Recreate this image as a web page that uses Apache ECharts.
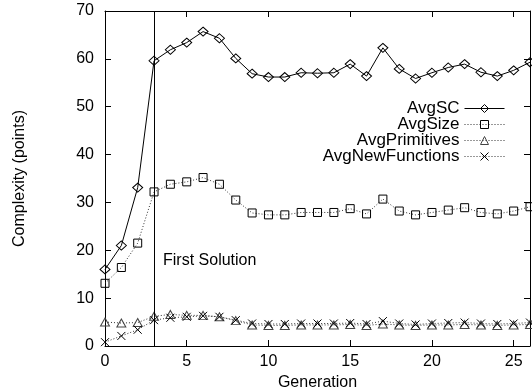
<!DOCTYPE html>
<html>
<head>
<meta charset="utf-8">
<script src="https://cdn.jsdelivr.net/npm/echarts@6/dist/echarts.min.js"></script>
<style>html,body{margin:0;padding:0;background:#fff;}#c{width:532px;height:390px;}</style>
</head>
<body>
<div id="c"></div>
<script>
var generations = [0,1,2,3,4,5,6,7,8,9,10,11,12,13,14,15,16,17,18,19,20,21,22,23,24,25,26];
var avgSC = [16.0,21.0,33.1,59.6,61.9,63.4,65.7,64.3,60.1,56.9,56.2,56.2,57.1,57.0,57.1,58.9,56.4,62.3,57.9,55.9,57.1,58.2,58.9,57.2,56.4,57.6,59.3];
var avgSize = [13.1,16.4,21.5,32.2,33.8,34.3,35.2,33.8,30.5,27.8,27.4,27.4,27.9,27.9,27.9,28.7,27.6,30.7,28.2,27.4,27.9,28.4,28.9,27.9,27.6,28.2,29.1];
var avgPrimitives = [5.0,4.8,4.9,6.2,6.6,6.4,6.4,6.1,5.3,4.4,4.3,4.3,4.4,4.4,4.4,4.5,4.3,4.6,4.4,4.3,4.4,4.4,4.5,4.4,4.3,4.4,4.5];
var avgNewFunctions = [0.8,2.1,3.4,5.4,5.9,6.1,6.3,6.1,5.4,4.7,4.6,4.6,4.7,4.7,4.7,4.8,4.6,5.2,4.7,4.5,4.7,4.8,4.9,4.7,4.6,4.7,4.9];
var seriesNames = ['AvgSC','AvgSize','AvgPrimitives','AvgNewFunctions'];
var firstSolutionGen = 3;
var firstSolutionLabel = 'First Solution';
var firstSolutionLabelY = 17.8;

function pairs(arr){ return arr.map(function(v,i){ return [generations[i], v]; }); }

var FONT = '"Liberation Sans", Arial, sans-serif';
var chart = echarts.init(document.getElementById('c'), null, {renderer:'canvas'});
var hollow = function(c){ return {color:'rgba(0,0,0,0)', borderColor:c, borderWidth:1}; };
var solid = {color:'#000', width:1, type:'solid'};
var dotted = {color:'#333', width:1, type:[1,2]};
var tick = {show:true, inside:false, length:-6, lineStyle:{color:'#000', width:1}};
var blank = function(){ return ''; };

var option = {
  animation:false,
  backgroundColor:'#fff',
  textStyle:{fontFamily:FONT},
  grid:{left:105, right:2, top:11, bottom:44, containLabel:false, outerBoundsMode:'none'},
  legend:{
    orient:'vertical', right:22, top:95, align:'right',
    itemWidth:40, itemHeight:10, itemGap:-1,
    textStyle:{fontFamily:FONT, fontSize:17, color:'#000', lineHeight:14},
    data:[
      {name:seriesNames[0], itemStyle:hollow('#000'), lineStyle:solid},
      {name:seriesNames[1], itemStyle:hollow('#000'), lineStyle:dotted},
      {name:seriesNames[2], itemStyle:hollow('#444'), lineStyle:dotted},
      {name:seriesNames[3], itemStyle:hollow('#000'), lineStyle:dotted}
    ]
  },
  xAxis:[{
    type:'value', min:0, max:26, interval:5,
    name:'Generation', nameLocation:'middle', nameGap:27,
    nameTextStyle:{fontFamily:FONT, fontSize:16, color:'#000'},
    axisLine:{show:true, onZero:false, lineStyle:{color:'#000', width:1}},
    axisTick:tick,
    axisLabel:{fontFamily:FONT, fontSize:16, color:'#000', margin:8, showMaxLabel:false},
    splitLine:{show:false}
  },{
    type:'value', position:'top', min:0, max:26, interval:5,
    axisLine:{show:true, onZero:false, lineStyle:{color:'#000', width:1}},
    axisTick:tick,
    axisLabel:{show:true, formatter:blank}, splitLine:{show:false}
  }],
  yAxis:[{
    type:'value', min:0, max:70, interval:10,
    name:'Complexity (points)', nameLocation:'middle', nameGap:77,
    nameTextStyle:{fontFamily:FONT, fontSize:16, color:'#000'},
    axisLine:{show:true, onZero:false, lineStyle:{color:'#000', width:1}},
    axisTick:tick,
    axisLabel:{fontFamily:FONT, fontSize:16, color:'#000', margin:11},
    splitLine:{show:false}
  },{
    type:'value', position:'right', min:0, max:70, interval:10,
    axisLine:{show:true, onZero:false, lineStyle:{color:'#000', width:1}},
    axisTick:tick,
    axisLabel:{show:true, formatter:blank}, splitLine:{show:false}
  }],
  series:[
    {
      name:seriesNames[0], type:'line', data:pairs(avgSC),
      symbol:'diamond', symbolSize:[10,9], showAllSymbol:true,
      lineStyle:solid,
      itemStyle:hollow('#000'),
      markLine:{
        silent:true, symbol:['none','none'], animation:false,
        label:{show:false},
        lineStyle:{color:'#000', width:1, type:'solid'},
        data:[{xAxis:firstSolutionGen}]
      },
      markPoint:{
        silent:true, symbol:'rect', symbolSize:0,
        label:{show:true, position:'right', distance:9, formatter:firstSolutionLabel,
               fontFamily:FONT, fontSize:16, color:'#000'},
        data:[{coord:[firstSolutionGen, firstSolutionLabelY]}]
      }
    },
    {
      name:seriesNames[1], type:'line', data:pairs(avgSize),
      xAxisIndex:1, yAxisIndex:1,
      symbol:'rect', symbolSize:8, showAllSymbol:true,
      lineStyle:dotted,
      itemStyle:hollow('#000')
    },
    {
      name:seriesNames[2], type:'line', data:pairs(avgPrimitives),
      symbol:'triangle', symbolSize:[9,8], showAllSymbol:true,
      lineStyle:dotted,
      itemStyle:hollow('#444')
    },
    {
      name:seriesNames[3], type:'line', data:pairs(avgNewFunctions),
      symbol:'path://M0,0L10,10M10,0L0,10', symbolSize:8, showAllSymbol:true,
      lineStyle:dotted,
      itemStyle:hollow('#000')
    }
  ]
};
chart.setOption(option);
</script>
</body>
</html>
